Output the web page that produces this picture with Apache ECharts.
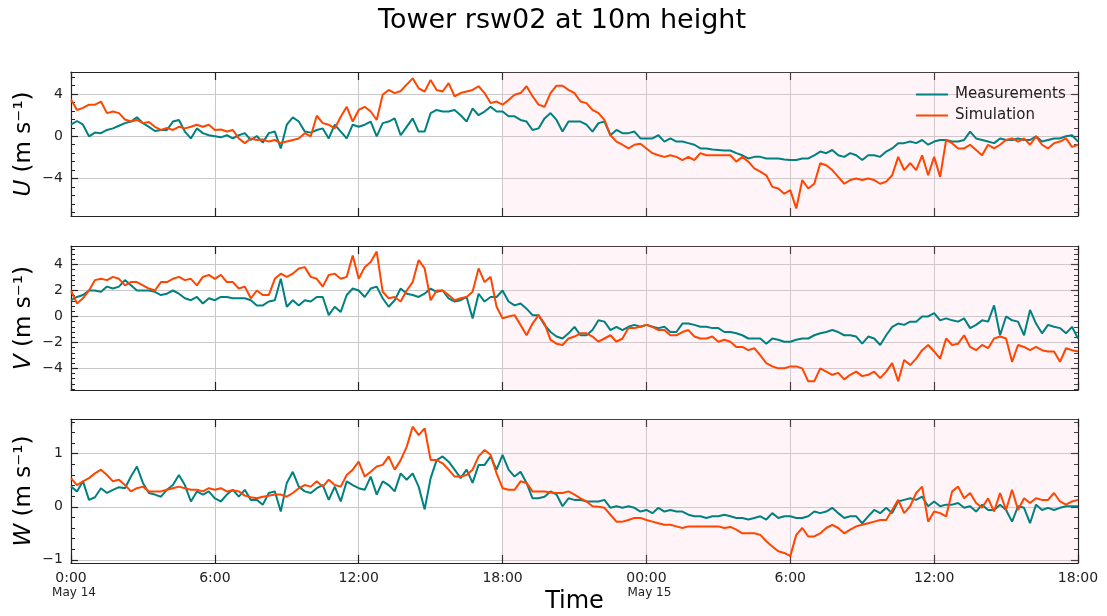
<!DOCTYPE html>
<html>
<head>
<meta charset="utf-8">
<script src="https://cdn.jsdelivr.net/npm/echarts@6/dist/echarts.min.js"></script>
<style>
  html, body { margin: 0; padding: 0; background: #ffffff; }
  #chart { width: 1107px; height: 616px; }
</style>
</head>
<body>
<div id="chart"></div>
<script>
// Tower rsw02, 10 m level: wind components every 15 minutes from May 14 00:00 to May 15 18:00
const stepHours = 0.25;

const uMeas = [
  1.1, 1.45, 1.1, 0, 0.35, 0.3, 0.6, 0.75, 1.0, 1.25, 1.4, 1.8, 1.25,
  0.9, 0.5, 0.6, 0.6, 1.4, 1.55, 0.45, -0.2, 0.75, 0.3, 0.1, 0,
  -0.1, 0.1, -0.2, 0.1, 0.3, -0.35, 0.03, -0.6, 0.3, 0.45, -1.15, 1.1,
  1.8, 1.4, 0.45, 0.35, 0.6, 0.75, -0.2, 1.1, 0.45, -0.2, 1.1, 0.9,
  1.1, 1.4, 0, 1.25, 1.4, 1.7, 0.1, 0.9, 1.7, 0.45, 0.45, 2.2,
  2.5, 2.35, 2.35, 2.5, 2.0, 1.4, 2.65, 2.0, 2.35, 2.8, 2.35, 2.35,
  1.9, 1.9, 1.55, 1.4, 0.6, 0.75, 1.7, 2.2, 1.55, 0.45, 1.4, 1.4,
  1.4, 1.1, 0.45, 1.25, 1.4, 0.1, 0.6, 0.3, 0.3, 0.45, -0.2, -0.2,
  -0.2, 0.1, -0.5, -0.2, -0.5, -0.5, -0.65, -0.8, -1.15, -1.15, -1.25, -1.3,
  -1.35, -1.35, -1.6, -1.8, -2.1, -1.95, -1.95, -2.1, -2.1, -2.1, -2.2, -2.25,
  -2.25, -2.1, -2.1, -1.8, -1.45, -1.6, -1.3, -1.8, -1.95, -1.6, -1.8, -2.25,
  -1.8, -1.8, -1.95, -1.45, -1.15, -0.65, -0.65, -0.5, -0.65, -0.35, -0.8, -0.5,
  -0.35, -0.35, -0.5, -0.5, -0.35, 0.45, -0.2, -0.35, -0.5, -0.65, -0.2, -0.35,
  -0.35, -0.2, -0.35, -0.35, 0, -0.5, -0.35, -0.2, -0.2, 0, 0.1, -0.5
];
const uSim = [
  3.5, 2.5, 2.7, 3.0, 3.0, 3.3, 2.2, 2.35, 2.2, 1.6, 1.4, 1.55, 1.25,
  1.35, 0.9, 0.6, 0.8, 0.6, 0.9, 0.75, 0.9, 1.1, 0.9, 1.1, 0.6,
  0.65, 0.45, 0.6, -0.2, -0.65, -0.2, -0.35, -0.3, -0.5, -0.35, -0.65, -0.5,
  -0.35, -0.2, 0.3, 0, 1.95, 1.25, 1.1, 0.75, 1.85, 2.8, 1.4, 2.5,
  2.8, 2.35, 1.55, 3.95, 4.4, 4.1, 4.3, 4.9, 5.5, 4.55, 4.25, 5.35,
  4.4, 4.25, 5.05, 3.8, 4.1, 4.25, 4.4, 4.75, 4.1, 3.15, 3.3, 3.0,
  3.45, 3.95, 4.1, 4.75, 3.8, 3.0, 2.8, 4.1, 4.8, 4.8, 4.4, 4.1,
  3.3, 3.15, 2.5, 2.2, 1.55, 0.1, -0.5, -0.8, -1.15, -0.8, -0.7, -1.15,
  -1.6, -1.8, -1.95, -1.8, -1.95, -2.25, -1.95, -2.25, -1.6, -1.8, -1.8, -1.8,
  -1.8, -1.8, -2.4, -1.95, -2.4, -3.05, -3.35, -3.7, -4.8, -4.95, -5.45, -5.1,
  -6.85, -4.15, -4.95, -4.5, -2.55, -2.75, -3.2, -3.85, -4.5, -4.15, -4.0, -4.15,
  -4.0, -4.15, -4.5, -4.3, -3.7, -1.95, -3.2, -2.55, -3.2, -1.8, -3.7, -1.95,
  -3.85, -0.35, -0.65, -1.15, -1.15, -0.8, -1.3, -1.8, -0.8, -1.15, -0.8, -0.35,
  -0.2, -0.5, -0.2, -0.8, 0, -0.8, -1.15, -0.65, -0.5, -0.2, -1.0, -0.8
];
const vMeas = [
  1.25, 1.5, 1.65, 2.0, 2.0, 1.9, 2.3, 2.15, 2.3, 2.8, 2.4, 2.0, 2.0,
  2.0, 1.9, 1.65, 1.75, 2.0, 1.75, 1.4, 1.25, 1.5, 1.0, 1.4, 1.25,
  1.5, 1.5, 1.4, 1.4, 1.4, 1.25, 0.85, 0.85, 1.15, 1.25, 2.9, 0.75,
  1.25, 0.85, 1.25, 1.15, 1.5, 1.5, 0.1, 0.75, 0.35, 1.65, 2.15, 2.0,
  1.5, 2.15, 2.3, 1.4, 0.75, 1.25, 2.15, 1.75, 1.65, 1.5, 1.75, 2.15,
  1.9, 2.0, 1.4, 1.15, 1.25, 1.5, -0.15, 1.75, 1.15, 1.5, 1.5, 2.0,
  1.15, 0.85, 1.0, 0.6, 0.1, 0.1, -0.65, -1.2, -1.55, -1.7, -1.3, -0.8,
  -1.45, -1.45, -1.05, -0.3, -0.4, -1.05, -0.8, -1.05, -0.8, -0.65, -0.8, -0.65,
  -0.8, -0.9, -0.8, -1.2, -1.2, -0.55, -0.55, -0.65, -0.8, -0.8, -0.9, -0.9,
  -1.2, -1.2, -1.3, -1.45, -1.7, -1.7, -1.7, -2.1, -1.7, -1.8, -1.95, -1.95,
  -1.8, -1.7, -1.7, -1.45, -1.3, -1.2, -1.05, -1.2, -1.45, -1.45, -1.55, -2.1,
  -1.55, -1.7, -2.2, -1.45, -0.8, -0.55, -0.65, -0.4, -0.4, 0, 0, 0.25,
  -0.3, -0.15, -0.3, -0.4, -0.15, -0.9, -0.65, -0.3, -0.4, 0.85, -1.45, 0,
  -0.3, -0.4, -1.45, 0.5, -0.55, -1.3, -0.65, -0.8, -0.9, -1.3, -0.8, -1.7
];
const vSim = [
  2.0, 1.0, 1.4, 2.0, 2.8, 2.9, 2.8, 3.05, 2.9, 2.4, 2.65, 2.65, 2.4,
  2.15, 2.0, 2.65, 2.65, 2.9, 3.05, 2.8, 2.9, 2.4, 3.05, 3.2, 2.9,
  3.2, 2.65, 2.65, 2.15, 2.3, 1.4, 2.0, 1.65, 1.65, 2.9, 3.3, 3.05,
  3.3, 3.7, 3.8, 3.05, 2.9, 2.3, 3.2, 3.3, 2.9, 3.05, 4.7, 2.9,
  3.8, 4.2, 5.0, 1.9, 1.4, 1.5, 1.15, 2.0, 2.65, 4.35, 3.7, 1.25,
  2.0, 2.0, 1.65, 1.25, 1.4, 1.5, 1.9, 3.7, 2.65, 3.05, 0.75, -0.15,
  0, 0.1, -0.65, -1.45, -0.55, 0.1, -0.55, -1.8, -2.1, -2.2, -1.7, -1.55,
  -1.3, -1.3, -1.55, -1.95, -1.7, -1.45, -1.95, -1.7, -0.9, -0.9, -0.8, -0.65,
  -0.8, -1.05, -1.05, -1.45, -1.45, -1.2, -1.05, -1.55, -1.7, -1.7, -1.55, -1.95,
  -1.8, -1.95, -2.35, -2.35, -2.6, -2.45, -3.0, -3.6, -3.85, -4.0, -4.0, -3.85,
  -3.85, -4.0, -5.0, -5.0, -4.0, -4.25, -4.5, -4.35, -4.85, -4.5, -4.25, -4.6,
  -4.5, -4.25, -4.75, -4.25, -3.6, -5.0, -3.35, -3.75, -3.25, -2.6, -2.2, -2.7,
  -3.25, -1.7, -2.2, -2.1, -1.45, -2.35, -2.6, -2.2, -2.45, -1.7, -1.55, -1.7,
  -3.5, -2.2, -2.35, -2.6, -2.35, -2.6, -2.7, -2.7, -3.5, -2.45, -2.6, -2.7
];
const wMeas = [
  0.38, 0.29, 0.48, 0.13, 0.18, 0.35, 0.26, 0.32, 0.37, 0.35, 0.57, 0.76, 0.45,
  0.26, 0.23, 0.19, 0.32, 0.41, 0.6, 0.41, 0.1, 0.29, 0.23, 0.29, 0.16,
  0.1, 0.23, 0.32, 0.19, 0.32, 0.13, 0.13, 0.04, 0.26, 0.29, -0.09, 0.45,
  0.66, 0.38, 0.29, 0.26, 0.35, 0.41, 0.13, 0.38, 0.1, 0.48, 0.41, 0.35,
  0.32, 0.57, 0.23, 0.48, 0.41, 0.29, 0.63, 0.51, 0.63, 0.38, -0.05, 0.54,
  0.88, 0.95, 0.85, 0.7, 0.54, 0.7, 0.45, 0.79, 0.79, 0.95, 0.7, 0.98,
  0.7, 0.57, 0.66, 0.45, 0.16, 0.16, 0.19, 0.29, 0.23, 0.01, 0.16, 0.13,
  0.13, 0.1, 0.1, 0.1, 0.13, -0.02, 0.01, -0.02, 0.01, -0.02, -0.09, -0.06,
  -0.12, -0.02, -0.09, -0.06, -0.09, -0.09, -0.15, -0.18, -0.18, -0.21, -0.18, -0.18,
  -0.15, -0.18, -0.21, -0.21, -0.24, -0.21, -0.18, -0.24, -0.12, -0.21, -0.18, -0.18,
  -0.21, -0.21, -0.18, -0.09, -0.12, -0.09, -0.02, -0.12, -0.21, -0.18, -0.18, -0.31,
  -0.18, -0.06, -0.12, -0.02, -0.12, 0.1, 0.13, 0.16, 0.13, 0.19, 0.01, 0.1,
  0.01, 0.04, 0.04, 0.07, -0.02, 0.01, -0.09, 0.04, -0.06, -0.06, 0.04, -0.06,
  -0.28, 0.01, -0.02, -0.31, 0.04, -0.06, -0.02, -0.06, -0.02, 0.01, 0.01, 0.01
];
const wSim = [
  0.54, 0.41, 0.48, 0.54, 0.63, 0.7, 0.6, 0.48, 0.51, 0.41, 0.29, 0.35, 0.38,
  0.29, 0.29, 0.29, 0.32, 0.35, 0.38, 0.35, 0.32, 0.32, 0.29, 0.35, 0.32,
  0.35, 0.29, 0.31, 0.29, 0.21, 0.18, 0.16, 0.19, 0.21, 0.23, 0.23, 0.19,
  0.26, 0.35, 0.41, 0.38, 0.48, 0.38, 0.51, 0.41, 0.38, 0.6, 0.7, 0.85,
  0.57, 0.66, 0.76, 0.79, 0.95, 0.7, 0.88, 1.13, 1.51, 1.35, 1.48, 0.88,
  0.88, 0.82, 0.7, 0.57, 0.57, 0.6, 0.7, 0.95, 1.07, 0.98, 0.63, 0.35,
  0.32, 0.32, 0.48, 0.45, 0.29, 0.29, 0.29, 0.27, 0.26, 0.26, 0.29, 0.23,
  0.16, 0.1, 0.01, 0, -0.02, -0.15, -0.28, -0.28, -0.25, -0.21, -0.21, -0.25,
  -0.28, -0.31, -0.34, -0.34, -0.37, -0.4, -0.37, -0.37, -0.37, -0.37, -0.37, -0.37,
  -0.4, -0.38, -0.43, -0.5, -0.5, -0.5, -0.53, -0.65, -0.75, -0.84, -0.87, -0.93,
  -0.53, -0.4, -0.56, -0.56, -0.5, -0.4, -0.34, -0.4, -0.5, -0.43, -0.37, -0.34,
  -0.31, -0.28, -0.25, -0.25, -0.06, 0.13, -0.12, 0.01, 0.26, 0.38, -0.28, -0.09,
  -0.12, -0.18, 0.29, 0.38, 0.16, 0.26, 0.07, -0.02, 0.16, -0.09, 0.26, -0.06,
  0.32, -0.06, 0.16, 0.07, 0.16, 0.13, 0.13, 0.26, 0.1, 0.04, 0.1, 0.13
];

// Axis limits and tick values
const uRange = [-7.56, 6.1];
const vRange = [-5.67, 5.43];
const wRange = [-1.06, 1.655];
const uTicks = [-4, 0, 4];
const vTicks = [-4, -2, 0, 2, 4];
const wTicks = [-1, 0, 1];
const uMinorStep = 0.8;
const vMinorStep = 0.4;
const wMinorStep = 0.2;

const xTickHours = [0, 6, 12, 18, 24, 30, 36, 42];
const xTickLabels = ['0:00', '6:00', '12:00', '18:00', '00:00', '6:00', '12:00', '18:00'];
const xDateLabels = ['May 14', '', '', '', 'May 15', '', '', ''];
const shadeFrom = 18;   // start of the shaded period (May 14 18:00)
const shadeTo = 42;

const FONT = 'DejaVu Sans';
const INK = '#222222';
const GRIDLINE = '#c8c8c8';
const MEAS_COLOR = '#008080';
const SIM_COLOR = '#ff4500';

const toPoints = arr => arr.map((v, i) => [i * stepHours, v]);
const minorValues = (range, step) => {
  const out = [];
  for (let k = Math.ceil(range[0] / step - 1e-9); k * step <= range[1] + 1e-9; k++) {
    out.push(+(k * step).toFixed(4));
  }
  return out;
};
const minusSign = v => String(v).replace('-', '\u2212');

const panels = [
  { label: 'U', meas: uMeas, sim: uSim, range: uRange, ticks: uTicks, minor: uMinorStep, top: 72 },
  { label: 'V', meas: vMeas, sim: vSim, range: vRange, ticks: vTicks, minor: vMinorStep, top: 246 },
  { label: 'W', meas: wMeas, sim: wSim, range: wRange, ticks: wTicks, minor: wMinorStep, top: 419 }
];

const grids = [], xAxes = [], yAxes = [], series = [];
const lineAxis = { show: true, onZero: false, lineStyle: { color: INK, width: 1.2 } };

panels.forEach((p, gi) => {
  const last = gi === panels.length - 1;
  grids.push({ left: 71, right: 29, top: p.top, height: 144, containLabel: false, outerBoundsMode: 'none' });

  // bottom axis (with vertical grid lines) and mirrored top axis
  xAxes.push({
    gridIndex: gi, type: 'value', position: 'bottom', min: 0, max: 42, interval: 6,
    axisLine: lineAxis,
    axisTick: { show: true, inside: true, length: 8, lineStyle: { color: INK, width: 1.2 } },
    splitLine: { show: true, lineStyle: { color: GRIDLINE, width: 1 } },
    axisLabel: last ? {
      show: true, margin: 7, hideOverlap: false, showMinLabel: true, showMaxLabel: true,
      formatter: v => {
        const i = xTickHours.indexOf(v);
        if (i < 0) return '';
        let s = '{t|' + xTickLabels[i] + '}';
        if (xDateLabels[i]) s += '\n{d|' + xDateLabels[i] + '}';
        return s;
      },
      rich: {
        t: { fontFamily: FONT, fontSize: 14, color: INK, lineHeight: 16 },
        d: { fontFamily: FONT, fontSize: 12, color: INK, lineHeight: 13, padding: [0, 0, 0, 6] }
      }
    } : { show: false },
    name: last ? 'Time' : '',
    nameLocation: 'middle', nameGap: 27, nameMoveOverlap: false,
    nameTextStyle: { fontFamily: FONT, fontSize: 24, color: '#000' }
  });
  xAxes.push({
    gridIndex: gi, type: 'value', position: 'top', min: 0, max: 42, interval: 6,
    axisLine: lineAxis,
    axisTick: { show: true, inside: true, length: 8, lineStyle: { color: INK, width: 1.2 } },
    splitLine: { show: false }, axisLabel: { show: false }
  });

  const minors = minorValues(p.range, p.minor);
  const base = yAxes.length;
  // left: labelled major ticks with horizontal grid lines
  yAxes.push({
    gridIndex: gi, type: 'value', position: 'left', min: p.range[0], max: p.range[1],
    axisLine: lineAxis,
    axisTick: { show: true, inside: true, length: 7, customValues: p.ticks, lineStyle: { color: INK, width: 1.2 } },
    axisLabel: { show: true, customValues: p.ticks, margin: 8, formatter: minusSign,
      fontFamily: FONT, fontSize: 14, color: INK },
    splitLine: { show: true, lineStyle: { color: GRIDLINE, width: 1 } },
    name: '{i|' + p.label + '} (m s\u207B\u00B9)',
    nameLocation: 'middle', nameRotate: 90, nameGap: 35, nameMoveOverlap: false,
    nameTextStyle: { fontFamily: FONT, fontSize: 23, color: '#000',
      rich: { i: { fontFamily: FONT, fontSize: 23, fontStyle: 'italic', color: '#000' } } }
  });
  // left: minor ticks
  yAxes.push({
    gridIndex: gi, type: 'value', position: 'left', min: p.range[0], max: p.range[1],
    axisLine: { show: false, onZero: false },
    axisTick: { show: true, inside: true, length: 4, customValues: minors, lineStyle: { color: INK, width: 1 } },
    axisLabel: { show: false }, splitLine: { show: false }
  });
  // right: mirrored major and minor ticks
  yAxes.push({
    gridIndex: gi, type: 'value', position: 'right', min: p.range[0], max: p.range[1],
    axisLine: lineAxis,
    axisTick: { show: true, inside: true, length: 7, customValues: p.ticks, lineStyle: { color: INK, width: 1.2 } },
    axisLabel: { show: false }, splitLine: { show: false }
  });
  yAxes.push({
    gridIndex: gi, type: 'value', position: 'right', min: p.range[0], max: p.range[1],
    axisLine: { show: false, onZero: false },
    axisTick: { show: true, inside: true, length: 4, customValues: minors, lineStyle: { color: INK, width: 1 } },
    axisLabel: { show: false }, splitLine: { show: false }
  });

  const xi = gi * 2;
  series.push({
    name: 'Measurements', type: 'line', xAxisIndex: xi, yAxisIndex: base,
    data: toPoints(p.meas), showSymbol: false, symbol: 'none',
    lineStyle: { color: MEAS_COLOR, width: 2 }, itemStyle: { color: MEAS_COLOR },
    z: 3,
    markArea: {
      silent: true,
      itemStyle: { color: 'rgba(255, 192, 210, 0.18)' },
      data: [[{ xAxis: shadeFrom }, { xAxis: shadeTo }]]
    }
  });
  series.push({
    name: 'Simulation', type: 'line', xAxisIndex: xi, yAxisIndex: base,
    data: toPoints(p.sim), showSymbol: false, symbol: 'none',
    lineStyle: { color: SIM_COLOR, width: 2 }, itemStyle: { color: SIM_COLOR },
    z: 4
  });
});

const chart = echarts.init(document.getElementById('chart'), null, { renderer: 'canvas' });
chart.setOption({
  animation: false,
  backgroundColor: '#ffffff',
  textStyle: { fontFamily: FONT },
  title: {
    text: 'Tower rsw02 at 10m height', left: 373, top: 2,
    textStyle: { fontFamily: FONT, fontSize: 27, fontWeight: 'normal', color: '#000' }
  },
  legend: {
    data: ['Measurements', 'Simulation'],
    orient: 'vertical', left: 911, top: 82,
    icon: 'rect', itemWidth: 32, itemHeight: 2, itemGap: 6,
    textStyle: { fontFamily: FONT, fontSize: 15, color: INK, padding: [0, 0, 0, 2] }
  },
  grid: grids,
  xAxis: xAxes,
  yAxis: yAxes,
  series: series
});
</script>
</body>
</html>
